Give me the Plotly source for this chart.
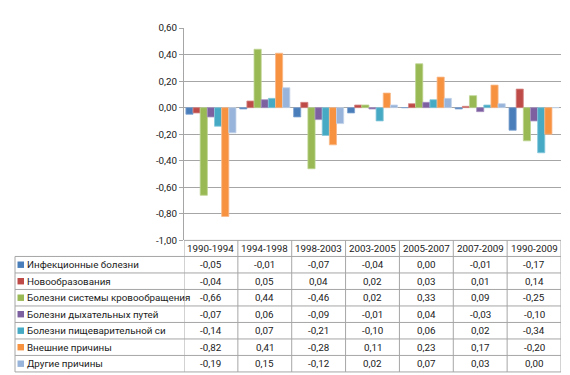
import plotly.graph_objects as go

periods = ["1990-1994", "1994-1998", "1998-2003", "2003-2005", "2005-2007", "2007-2009", "1990-2009"]
series_names = [
    "Инфекционные болезни",
    "Новообразования",
    "Болезни системы кровообращения",
    "Болезни дыхательных путей",
    "Болезни пищеварительной си",
    "Внешние причины",
    "Другие причины",
]
infectious = [-0.05, -0.01, -0.07, -0.04, 0.00, -0.01, -0.17]
neoplasms = [-0.04, 0.05, 0.04, 0.02, 0.03, 0.01, 0.14]
circulatory = [-0.66, 0.44, -0.46, 0.02, 0.33, 0.09, -0.25]
respiratory = [-0.07, 0.06, -0.09, -0.01, 0.04, -0.03, -0.10]
digestive = [-0.14, 0.07, -0.21, -0.10, 0.06, 0.02, -0.34]
external = [-0.82, 0.41, -0.28, 0.11, 0.23, 0.17, -0.20]
other = [-0.19, 0.15, -0.12, 0.02, 0.07, 0.03, 0.00]
y_ticks = [-1.0, -0.8, -0.6, -0.4, -0.2, 0.0, 0.2, 0.4, 0.6]

series_values = [infectious, neoplasms, circulatory, respiratory, digestive, external, other]
colors = ["#4A7EBB", "#BE4B48", "#98B954", "#7D60A0", "#46AAC5", "#F69240", "#98B4DA"]
borders = ["#7FA3D1", "#D68886", "#BCD38F", "#A791C2", "#86C8DA", "#F9B98A", "#C3D3EA"]

# the captured page is ~382px tall and is shown at 375px, so vertical
# positions (measured on the 375px reference) are stretched by SY
SY = 382 / 375
W, H = 570, 382

def vy(py):
    return py * SY

L, R = 184, 9
T, B = round(vy(27)), 2
PW, PH = W - L - R, H - T - B
axis_bottom_px = 239

def px_x(px):
    return (px - L) / PW

def px_y(py):
    return 1 - (vy(py) - T) / PH

FONT = "Roboto"
fs = 9.8

def fmt(v):
    s = f"{abs(v):.2f}".replace(".", ",")
    return ("-" + s) if v < 0 else s

fig = go.Figure()
for name, vals, c, bc in zip(series_names, series_values, colors, borders):
    fig.add_trace(go.Bar(x=periods, y=vals, name=name,
                         marker=dict(color=c, line=dict(color=bc, width=0.8))))

grid = "#A6A6A6"
txt = "#1a1a1a"
fig.update_layout(
    width=W, height=H,
    margin=dict(l=L, r=R, t=T, b=B),
    paper_bgcolor="white", plot_bgcolor="white",
    barmode="group", bargap=0.07, bargroupgap=0,
    showlegend=False,
    font=dict(family=FONT, size=fs, color=txt),
    xaxis=dict(type="category", range=[-0.5, 6.5], showticklabels=False,
               showgrid=False, zeroline=False, showline=False, ticks=""),
    yaxis=dict(range=[-1.0, 0.6], domain=[px_y(axis_bottom_px), 1],
               tickvals=y_ticks, ticktext=[fmt(v) for v in y_ticks],
               showgrid=True, gridcolor=grid, gridwidth=1,
               zeroline=False, showline=True, linecolor=grid, linewidth=1,
               ticks="outside", ticklen=4, tickcolor=grid,
               tickfont=dict(family=FONT, size=fs, color=txt)),
)

shapes = []
line = dict(color=grid, width=1)
table_left = 15
header_top = axis_bottom_px
header_bottom = 255
row_h = (370 - header_bottom) / len(series_names)
row_edges = [header_bottom + i * row_h for i in range(len(series_names) + 1)]

shapes.append(dict(type="line", xref="paper", yref="paper", x0=0, x1=1,
                   y0=px_y(header_top), y1=px_y(header_top), line=line))
for ye in row_edges:
    shapes.append(dict(type="line", xref="paper", yref="paper", x0=px_x(table_left), x1=1,
                       y0=px_y(ye), y1=px_y(ye), line=line))
shapes.append(dict(type="line", xref="paper", yref="paper", x0=px_x(table_left), x1=px_x(table_left),
                   y0=px_y(header_bottom), y1=px_y(row_edges[-1]), line=line))
for i in range(len(periods) + 1):
    shapes.append(dict(type="line", xref="x", yref="paper", x0=i - 0.5, x1=i - 0.5,
                       y0=px_y(header_top), y1=px_y(row_edges[-1]), line=line))

annotations = []
for i, p in enumerate(periods):
    annotations.append(dict(x=i, y=px_y((header_top + header_bottom) / 2), xref="x", yref="paper",
                            text=p, showarrow=False, xanchor="center", yanchor="middle",
                            font=dict(family=FONT, size=fs, color=txt)))
for r, (name, vals, c) in enumerate(zip(series_names, series_values, colors)):
    yc = (row_edges[r] + row_edges[r + 1]) / 2
    shapes.append(dict(type="rect", xref="paper", yref="paper",
                       x0=px_x(17.5), x1=px_x(24), y0=px_y(yc + 3.2), y1=px_y(yc - 3.2),
                       fillcolor=c, line=dict(width=0)))
    annotations.append(dict(x=px_x(24.5), y=px_y(yc), xref="paper", yref="paper",
                            text=name, showarrow=False, xanchor="left", yanchor="middle",
                            font=dict(family=FONT, size=fs, color=txt)))
    for i, v in enumerate(vals):
        annotations.append(dict(x=i, y=px_y(yc), xref="x", yref="paper",
                                text=fmt(v), showarrow=False, xanchor="center", yanchor="middle",
                                font=dict(family=FONT, size=fs, color=txt)))

fig.update_layout(shapes=shapes, annotations=annotations)
post = (
    "var s=document.createElement('style');"
    "s.textContent='html,body{margin:0;padding:0;overflow:hidden;}';"
    "document.head.appendChild(s);"
)
fig.write_html("out.html", config={"displayModeBar": False}, post_script=post)
